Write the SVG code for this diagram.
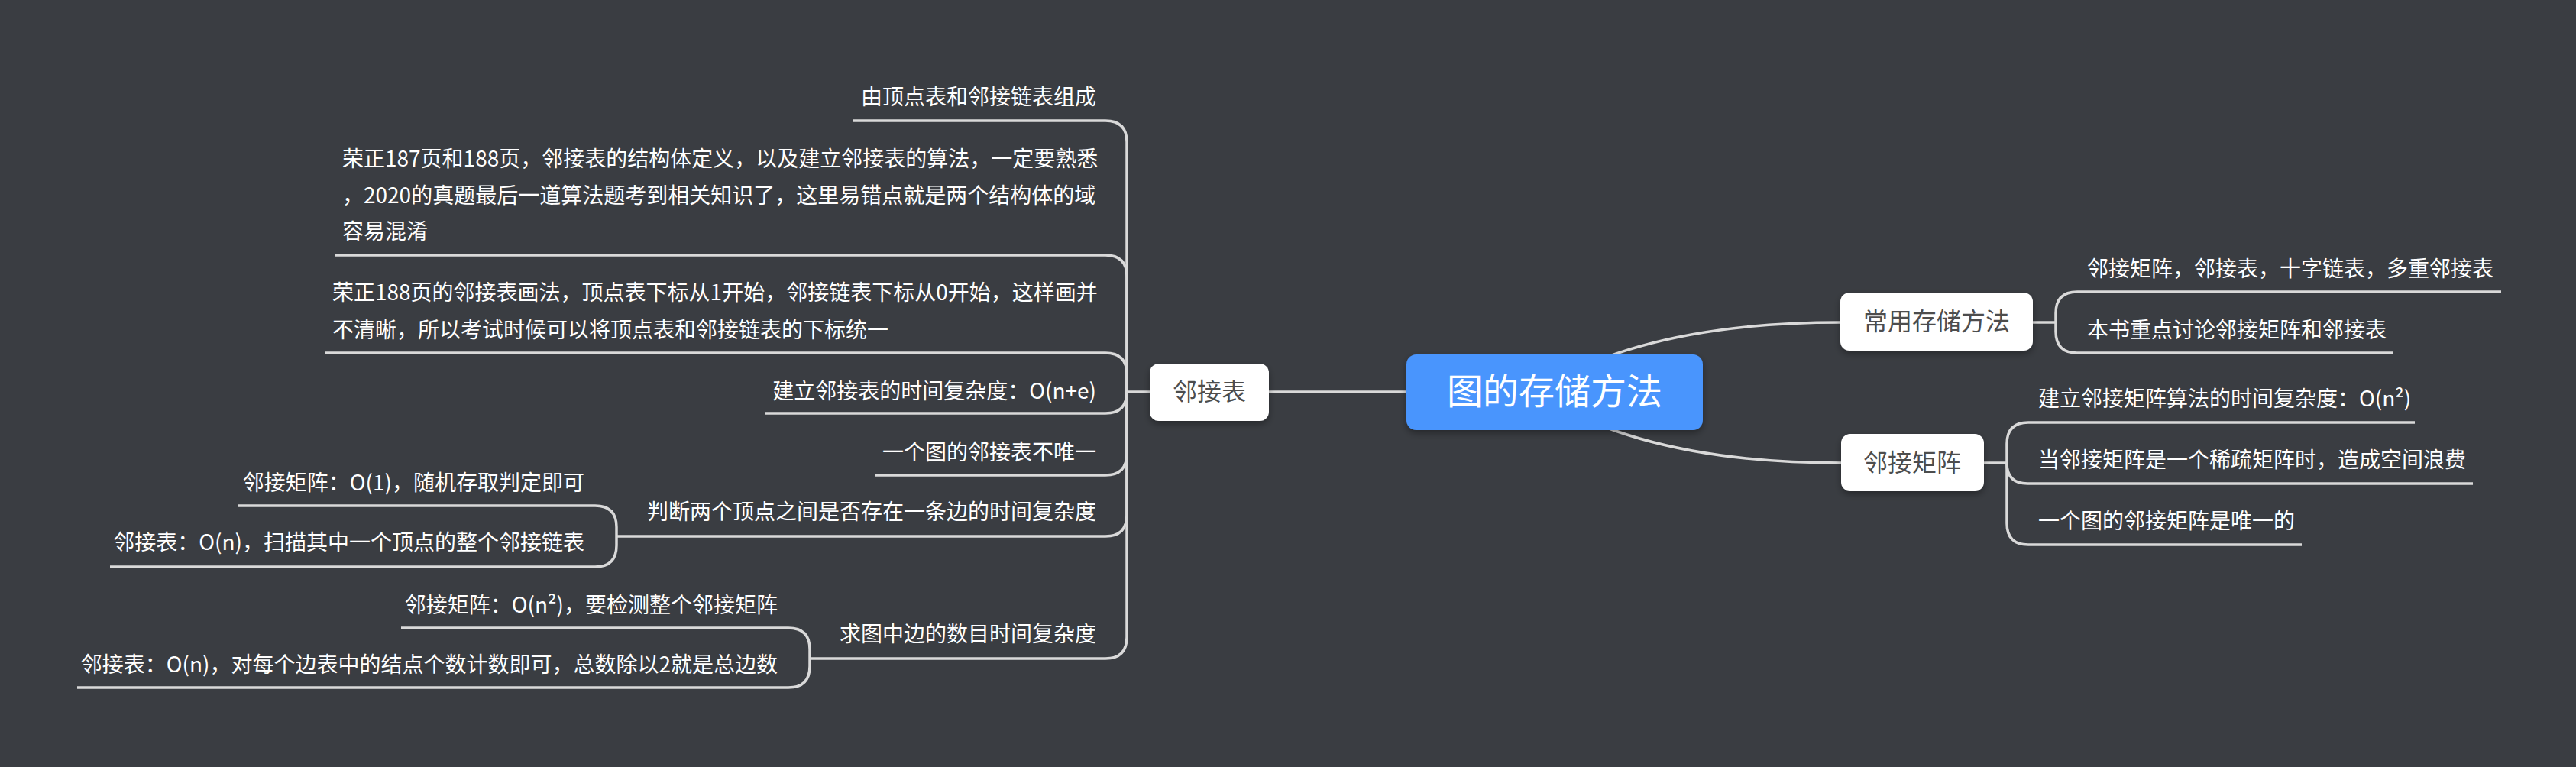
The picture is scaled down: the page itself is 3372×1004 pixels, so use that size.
<svg xmlns="http://www.w3.org/2000/svg" width="3372" height="1004" viewBox="0 0 3372 1004">
<defs>
<style>
.bg{fill:#3a3d42}
.ln{fill:none;stroke:#d9d9d9;stroke-width:3.5;stroke-linecap:butt}
.lf{font-family:"Noto Sans CJK SC","Microsoft YaHei",sans-serif;font-size:28px;fill:#ffffff}
.lfr{font-family:"Noto Sans CJK SC","Microsoft YaHei",sans-serif;font-size:28px;fill:#ffffff;text-anchor:end}
.box{fill:#ffffff}
.nt{font-family:"Noto Sans CJK SC","Microsoft YaHei",sans-serif;font-size:32px;fill:#4d4d4d;text-anchor:middle}
.mt{font-family:"Noto Sans CJK SC","Microsoft YaHei",sans-serif;font-size:47px;fill:#ffffff;text-anchor:middle}
</style>
<filter id="sh" x="-20%" y="-30%" width="140%" height="170%">
<feDropShadow dx="0" dy="4" stdDeviation="5" flood-color="#000000" flood-opacity="0.35"/>
</filter>
</defs>
<rect class="bg" x="0" y="0" width="3372" height="1004"/>

<g id="connectors">
<path class="ln" d="M2010 513 Q2150 422 2410 422"/>
<path class="ln" d="M2010 513 Q2150 606 2410 606"/>
<path class="ln" d="M1841 513 L1661 513"/>
<path class="ln" d="M2661 422 L2691 422"/>
<path class="ln" d="M2691 422 L2691 410 Q2691 382 2719 382 L3274 382"/>
<path class="ln" d="M2691 422 L2691 434 Q2691 462 2719 462 L3132 462"/>
<path class="ln" d="M2597 606 L2627 606"/>
<path class="ln" d="M2627 606 L2627 581 Q2627 553 2655 553 L3161 553"/>
<path class="ln" d="M2627 606 Q2627 633 2654 633 L3237 633"/>
<path class="ln" d="M2627 606 L2627 685 Q2627 713 2655 713 L3013 713"/>
<path class="ln" d="M1505 513 L1475 513"/>
<path class="ln" d="M1475 513 L1475 186 Q1475 158 1447 158 L1117 158"/>
<path class="ln" d="M1475 513 L1475 362 Q1475 334 1447 334 L439 334"/>
<path class="ln" d="M1475 513 L1475 490 Q1475 462 1447 462 L426 462"/>
<path class="ln" d="M1475 513 Q1475 541 1447 541 L1001 541"/>
<path class="ln" d="M1475 513 L1475 594 Q1475 622 1447 622 L1145 622"/>
<path class="ln" d="M1475 513 L1475 674 Q1475 702 1447 702 L807 702"/>
<path class="ln" d="M1475 513 L1475 834 Q1475 862 1447 862 L1060 862"/>
<path class="ln" d="M807 702 L807 690 Q807 662 779 662 L312 662"/>
<path class="ln" d="M807 702 L807 714 Q807 742 779 742 L144 742"/>
<path class="ln" d="M1060 862 L1060 850 Q1060 822 1032 822 L525 822"/>
<path class="ln" d="M1060 862 L1060 872 Q1060 900 1032 900 L101 900"/>
</g>

<g id="root">
<rect x="1841" y="464" width="388" height="99" rx="13" fill="#4a95fd" filter="url(#sh)"/>
<text class="mt" x="2035" y="529">图的存储方法</text>
</g>

<g id="n-changyong">
<rect class="box" x="2409" y="383" width="252" height="76" rx="12" filter="url(#sh)"/>
<text class="nt" x="2535" y="432">常用存储方法</text>
</g>
<g id="n-cy-1"><text class="lf" x="2732" y="362">邻接矩阵，邻接表，十字链表，多重邻接表</text></g>
<g id="n-cy-2"><text class="lf" x="2732" y="442">本书重点讨论邻接矩阵和邻接表</text></g>

<g id="n-juzhen">
<rect class="box" x="2410" y="568" width="187" height="75" rx="12" filter="url(#sh)"/>
<text class="nt" x="2503" y="617">邻接矩阵</text>
</g>
<g id="n-jz-1"><text class="lf" x="2668" y="532">建立邻接矩阵算法的时间复杂度：O(n²)</text></g>
<g id="n-jz-2"><text class="lf" x="2668" y="612">当邻接矩阵是一个稀疏矩阵时，造成空间浪费</text></g>
<g id="n-jz-3"><text class="lf" x="2668" y="692">一个图的邻接矩阵是唯一的</text></g>

<g id="n-linjiebiao">
<rect class="box" x="1505" y="476" width="156" height="75" rx="12" filter="url(#sh)"/>
<text class="nt" x="1583" y="524">邻接表</text>
</g>
<g id="n-lj-1"><text class="lfr" x="1435" y="137">由顶点表和邻接链表组成</text></g>
<g id="n-lj-2">
<text class="lf" x="448" y="218">荣正187页和188页，邻接表的结构体定义，以及建立邻接表的算法，一定要熟悉</text>
<text class="lf" x="448" y="266">，2020的真题最后一道算法题考到相关知识了，这里易错点就是两个结构体的域</text>
<text class="lf" x="448" y="313">容易混淆</text>
</g>
<g id="n-lj-3">
<text class="lf" x="435" y="393">荣正188页的邻接表画法，顶点表下标从1开始，邻接链表下标从0开始，这样画并</text>
<text class="lf" x="435" y="442">不清晰，所以考试时候可以将顶点表和邻接链表的下标统一</text>
</g>
<g id="n-lj-4"><text class="lfr" x="1435" y="522">建立邻接表的时间复杂度：O(n+e)</text></g>
<g id="n-lj-5"><text class="lfr" x="1435" y="602">一个图的邻接表不唯一</text></g>
<g id="n-lj-6"><text class="lfr" x="1435" y="680">判断两个顶点之间是否存在一条边的时间复杂度</text></g>
<g id="n-lj-6a"><text class="lfr" x="765" y="642">邻接矩阵：O(1)，随机存取判定即可</text></g>
<g id="n-lj-6b"><text class="lfr" x="765" y="720">邻接表：O(n)，扫描其中一个顶点的整个邻接链表</text></g>
<g id="n-lj-7"><text class="lfr" x="1435" y="840">求图中边的数目时间复杂度</text></g>
<g id="n-lj-7a"><text class="lfr" x="1018" y="802">邻接矩阵：O(n²)，要检测整个邻接矩阵</text></g>
<g id="n-lj-7b"><text class="lfr" x="1018" y="880">邻接表：O(n)，对每个边表中的结点个数计数即可，总数除以2就是总边数</text></g>
</svg>
